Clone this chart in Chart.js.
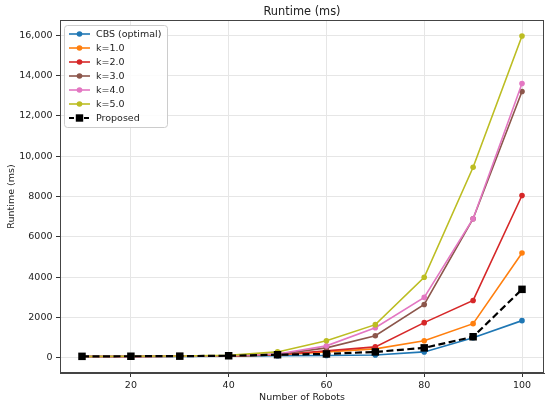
<!DOCTYPE html>
<html lang="en">
<head>
<meta charset="UTF-8">
<title>Runtime (ms)</title>
<script src="https://cdn.jsdelivr.net/npm/chart.js"></script>
<style>
  html, body { margin: 0; padding: 0; background: #fff; }
  canvas { display: block; }
</style>
</head>
<body>
<canvas id="runtimeChart" width="550" height="406"></canvas>
<script>
// number of robots on the x axis
const robots = [10, 20, 30, 40, 50, 60, 70, 80, 90, 100];

// runtimes in ms
const cbsOptimal = [70, 75, 80, 90, 110, 120, 150, 300, 1000, 1850];
const k1 = [70, 75, 85, 100, 150, 300, 450, 850, 1700, 5200];
const k2 = [70, 75, 85, 105, 160, 350, 550, 1750, 2850, 8050];
const k3 = [70, 75, 85, 110, 180, 500, 1100, 2650, 6900, 13200];
const k4 = [70, 80, 90, 115, 200, 600, 1500, 3000, 6900, 13600];
const k5 = [75, 85, 95, 130, 300, 850, 1650, 4000, 9450, 15950];
const proposed = [80, 85, 90, 110, 160, 200, 300, 500, 1050, 3400];

const seriesNames = ['CBS (optimal)', 'k=1.0', 'k=2.0', 'k=3.0', 'k=4.0', 'k=5.0', 'Proposed'];
const seriesValues = [cbsOptimal, k1, k2, k3, k4, k5, proposed];
const seriesColors = ['#1f77b4', '#ff7f0e', '#d62728', '#8c564b', '#e377c2', '#bcbd22', '#000000'];

const xTicks = [20, 40, 60, 80, 100];
const yTicks = [0, 2000, 4000, 6000, 8000, 10000, 12000, 14000, 16000];

const FONT = 'DejaVu Sans';

const datasets = seriesNames.map((name, i) => {
  const isProposed = name === 'Proposed';
  return {
    label: name,
    data: robots.map((r, j) => ({ x: r, y: seriesValues[i][j] })),
    borderColor: seriesColors[i],
    backgroundColor: seriesColors[i],
    borderWidth: isProposed ? 2.2 : 1.6,
    borderDash: isProposed ? [7, 3.5] : [],
    pointStyle: isProposed ? 'rect' : 'circle',
    pointRadius: isProposed ? 5.3 : 2.8,
    pointBorderWidth: 0,
    tension: 0,
    order: seriesNames.length - i   // later series drawn on top, like matplotlib
  };
});

// legend inside the plot, upper left
const insideLegend = {
  id: 'insideLegend',
  afterDatasetsDraw(chart) {
    const ctx = chart.ctx;
    const area = chart.chartArea;
    const x0 = area.left + 4, y0 = area.top + 5;
    const w = 103, h = 102, rowH = 14;
    ctx.save();
    ctx.fillStyle = 'rgba(255,255,255,0.85)';
    ctx.strokeStyle = '#cccccc';
    ctx.lineWidth = 1;
    ctx.beginPath();
    ctx.roundRect(x0 + 0.5, y0 + 0.5, w, h, 3);
    ctx.fill();
    ctx.stroke();
    ctx.font = '9.5px "' + FONT + '"';
    ctx.textBaseline = 'middle';
    chart.data.datasets.forEach((ds, i) => {
      const y = y0 + 9 + i * rowH;
      ctx.strokeStyle = ds.borderColor;
      ctx.lineWidth = ds.borderWidth;
      ctx.setLineDash(ds.borderDash.length ? [5, 2.5] : []);
      ctx.beginPath();
      ctx.moveTo(x0 + 5, y);
      ctx.lineTo(x0 + 26, y);
      ctx.stroke();
      ctx.setLineDash([]);
      ctx.fillStyle = ds.backgroundColor;
      if (ds.pointStyle === 'rect') {
        ctx.fillRect(x0 + 15.5 - 3.7, y - 3.7, 7.4, 7.4);
      } else {
        ctx.beginPath();
        ctx.arc(x0 + 15.5, y, 2.8, 0, Math.PI * 2);
        ctx.fill();
      }
      ctx.fillStyle = '#222';
      ctx.fillText(ds.label, x0 + 32, y + 0.5);
    });
    ctx.restore();
  }
};

// title and the top/right spines
const frame = {
  id: 'frame',
  afterDraw(chart) {
    const ctx = chart.ctx;
    const a = chart.chartArea;
    ctx.save();
    ctx.strokeStyle = '#444';
    ctx.lineWidth = 1;
    ctx.strokeRect(Math.round(a.left) + 0.5, Math.round(a.top) + 0.5,
      Math.round(a.right - a.left) - 1, Math.round(a.bottom - a.top) - 1);
    ctx.fillStyle = '#222';
    ctx.font = '11.4px "' + FONT + '"';
    ctx.textAlign = 'center';
    ctx.textBaseline = 'middle';
    ctx.fillText('Runtime (ms)', (a.left + a.right) / 2, 12);
    ctx.restore();
  }
};

new Chart(document.getElementById('runtimeChart').getContext('2d'), {
  type: 'line',
  data: { datasets: datasets },
  options: {
    responsive: false,
    animation: false,
    layout: { padding: { top: 20, right: 6, left: 0, bottom: 0 } },
    plugins: {
      legend: { display: false },
      title: { display: false },
      tooltip: { enabled: false }
    },
    scales: {
      x: {
        type: 'linear',
        min: 5.5,
        max: 104.5,
        afterBuildTicks: (axis) => { axis.ticks = xTicks.map(v => ({ value: v })); },
        afterFit: (axis) => { axis.height = 33; },
        grid: { color: '#e6e6e6', tickColor: '#333', tickLength: 4 },
        border: { color: '#444', width: 1 },
        ticks: { color: '#222', font: { family: FONT, size: 9.5 }, padding: 2.5, maxRotation: 0 },
        title: {
          display: true, text: 'Number of Robots', color: '#222',
          font: { family: FONT, size: 9.5 }, padding: { top: 0, bottom: 3 }
        }
      },
      y: {
        type: 'linear',
        min: -745,
        max: 16745,
        afterBuildTicks: (axis) => { axis.ticks = yTicks.map(v => ({ value: v })); },
        afterFit: (axis) => { axis.width = 60; },
        grid: { color: '#e6e6e6', tickColor: '#333', tickLength: 4 },
        border: { color: '#444', width: 1 },
        ticks: {
          color: '#222', font: { family: FONT, size: 9.5 }, padding: 3.5,
          callback: (v) => v >= 10000 ? v.toLocaleString('en-US') : String(v)
        },
        title: {
          display: true, text: 'Runtime (ms)', color: '#222',
          font: { family: FONT, size: 9.5 }, padding: { top: 6, bottom: 0 }
        }
      }
    }
  },
  plugins: [insideLegend, frame]
});
</script>
</body>
</html>
